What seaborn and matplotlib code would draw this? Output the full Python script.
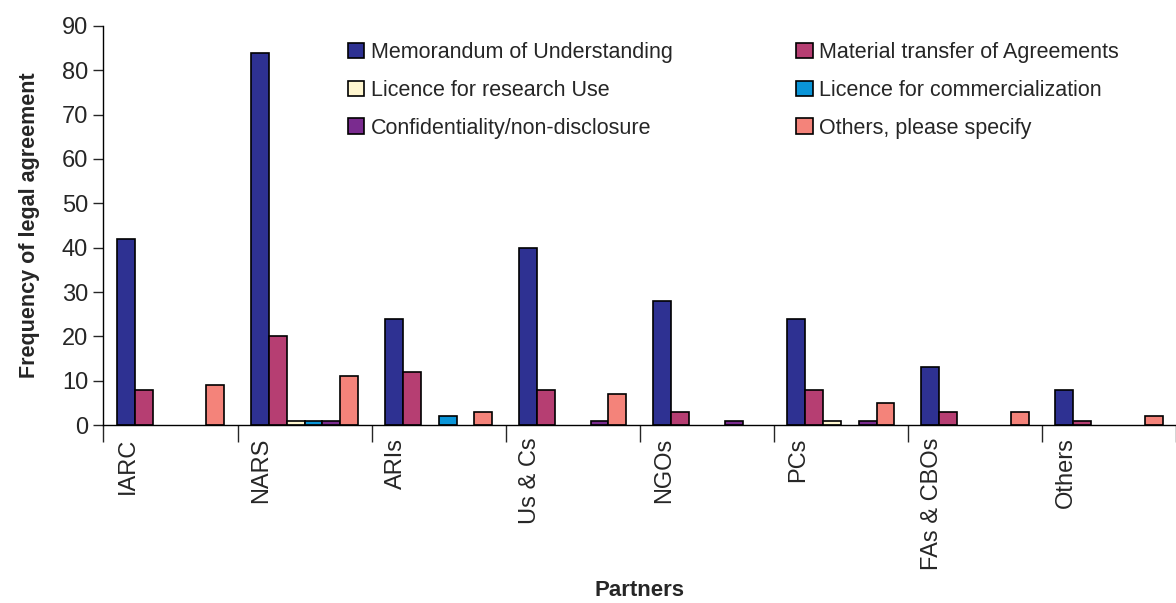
import numpy as np
import pandas as pd
import seaborn as sns
import matplotlib.pyplot as plt
import matplotlib.transforms as mtransforms

partners = ["IARC", "NARS", "ARIs", "Us & Cs", "NGOs", "PCs", "FAs & CBOs", "Others"]
agreement_types = ["Memorandum of Understanding", "Material transfer of Agreements",
                   "Licence for research Use", "Licence for commercialization",
                   "Confidentiality/non-disclosure", "Others, please specify"]

mou = [42, 84, 24, 40, 28, 24, 13, 8]
mta = [8, 20, 12, 8, 3, 8, 3, 1]
research = [0, 1, 0, 0, 0, 1, 0, 0]
commercial = [0, 1, 2, 0, 0, 0, 0, 0]
confidential = [0, 1, 0, 1, 1, 1, 0, 0]
others = [9, 11, 3, 7, 0, 5, 3, 2]

colors = ["#2E3192", "#B63E72", "#FFF6CF", "#0A95D8", "#7A2B8F", "#F4837A"]

sns.set_style("white")
plt.rcParams['font.family'] = ['Liberation Sans', 'DejaVu Sans']

df = pd.DataFrame({"Partners": partners * 6,
                   "Type": np.repeat(agreement_types, len(partners)),
                   "Value": mou + mta + research + commercial + confidential + others})

fig = plt.figure(figsize=(11.76, 6.03), dpi=100)
ax = fig.add_axes([0.088, 0.295, 0.912, 0.662])
sns.barplot(data=df, x="Partners", y="Value", hue="Type", hue_order=agreement_types,
            palette=colors, width=0.8, edgecolor="black", linewidth=1.2,
            saturation=1, ax=ax)
# empty bars should not leave an outline on the axis
for p in ax.patches:
    if p.get_height() == 0:
        p.set_linewidth(0)

ax.set_ylim(0, 90)
ax.set_xlim(-0.5, len(partners) - 0.5)
ax.set_yticks(range(0, 91, 10))
ax.tick_params(axis="y", labelsize=17, length=7, width=1, direction="out", left=True, pad=4)
for s in ["top", "right"]:
    ax.spines[s].set_visible(False)
for s in ["left", "bottom"]:
    ax.spines[s].set_color("black")
    ax.spines[s].set_linewidth(1)

# category labels (slightly left of centre) and tick marks at boundaries
ax.set_xticks(range(len(partners)))
ax.set_xticklabels(partners, rotation=90, fontsize=17, va="top", ha="center")
ax.tick_params(axis="x", which="major", length=0, pad=9)
ax.set_xticks(np.arange(-0.5, len(partners), 1), minor=True)
ax.tick_params(axis="x", which="minor", length=12, width=1, direction="out", bottom=True)
offset = mtransforms.ScaledTranslation(-0.43, 0, fig.dpi_scale_trans)
for lbl in ax.get_xticklabels():
    lbl.set_transform(lbl.get_transform() + offset)

ax.set_xlabel("Partners", fontsize=16, fontweight="bold", labelpad=7)
ax.set_ylabel("Frequency of legal agreement", fontsize=15.5, fontweight="bold", labelpad=16)

handles, labels = ax.get_legend_handles_labels()
order = [0, 2, 4, 1, 3, 5]
leg = ax.legend([handles[i] for i in order], [labels[i] for i in order], ncol=2,
                frameon=False, fontsize=15.5, loc="upper left", bbox_to_anchor=(0.21, 1.008),
                handlelength=0.75, handleheight=0.75, handletextpad=0.3,
                columnspacing=5.75, labelspacing=0.78)
for h in leg.legend_handles:
    h.set_edgecolor("black")
    h.set_linewidth(1.2)

fig.savefig("out.png", dpi=100)
